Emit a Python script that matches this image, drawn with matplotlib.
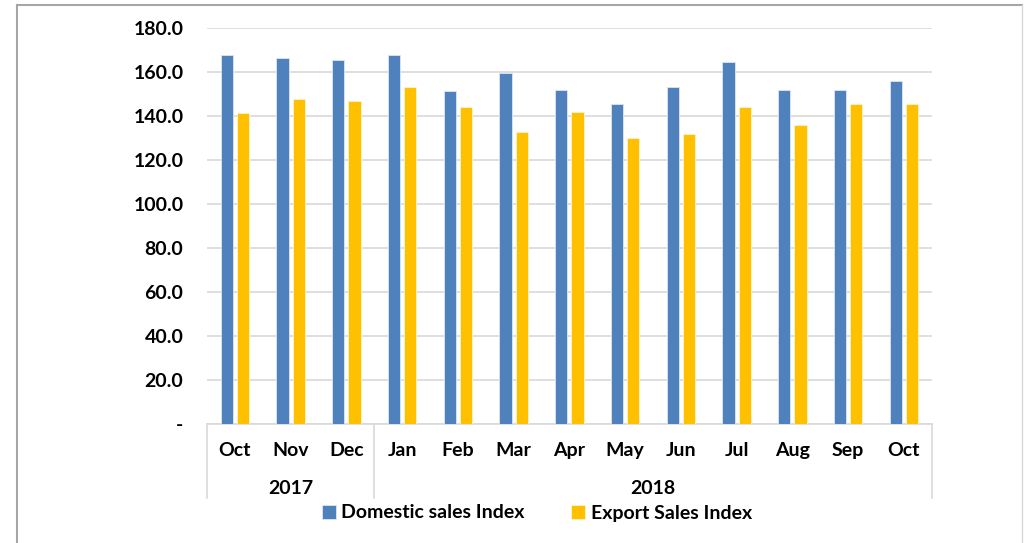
import matplotlib.pyplot as plt
import numpy as np
from matplotlib.lines import Line2D

months = ['Oct', 'Nov', 'Dec', 'Jan', 'Feb', 'Mar', 'Apr', 'May', 'Jun', 'Jul', 'Aug', 'Sep', 'Oct']
years = ['2017', '2018']
year_counts = [3, 10]
domestic = [167.7, 166.4, 165.5, 167.7, 151.4, 159.5, 151.8, 145.3, 153.3, 164.5, 152.0, 151.6, 155.8]
export = [141.4, 147.7, 146.8, 153.2, 144.1, 132.7, 141.8, 130.0, 131.9, 144.2, 135.9, 145.5, 145.6]

plt.rcParams['font.family'] = ['Lato', 'DejaVu Sans']
plt.rcParams['font.weight'] = 'bold'

blue = '#4F81BD'
yellow = '#FFC000'
grid_c = '#D9D9D9'
fs = 14

fig = plt.figure(figsize=(10.25, 5.43), dpi=100)
ax = fig.add_axes([0.202, 0.2192, 0.707, 0.7292])

x = np.arange(len(months))
w = 0.22
ax.bar(x - 0.145, domestic, w, color=blue, edgecolor='#DCE6F2', linewidth=0.6, label='Domestic sales Index', zorder=3)
ax.bar(x + 0.145, export, w, color=yellow, edgecolor='#FFF2CC', linewidth=0.6, label='Export Sales Index', zorder=3)

ax.set_xlim(-0.5, len(months) - 0.5)
ax.set_ylim(0, 180)
ax.set_yticks(np.arange(0, 181, 20))
ax.set_yticklabels(['-'] + [f'{v:.1f}' for v in np.arange(20, 181, 20)], fontsize=fs, fontweight='bold')
ax.yaxis.grid(True, color=grid_c, linewidth=1.2, zorder=0)
ax.tick_params(axis='y', length=0, pad=17)
ax.set_xticks([])
for s in ['top', 'right', 'left']:
    ax.spines[s].set_visible(False)
ax.spines['bottom'].set_color(grid_c)
ax.spines['bottom'].set_linewidth(1.2)

trans = ax.get_xaxis_transform()
for i, m in enumerate(months):
    ax.text(i, -0.066, m, transform=trans, ha='center', va='center', fontsize=fs, fontweight='bold')

start = 0
for yr, n in zip(years, year_counts):
    ax.text(start + (n - 1) / 2, -0.162, yr, transform=trans, ha='center', va='center', fontsize=fs, fontweight='bold')
    start += n

sep = [-0.5] + list(np.cumsum(year_counts) - 0.5)
for s in sep:
    ax.add_line(Line2D([s, s], [0, -0.187], transform=trans, color=grid_c, linewidth=1.2, clip_on=False))

fig.legend(loc='center', bbox_to_anchor=(537 / 1025, 1 - 513 / 543), ncol=2, frameon=False,
           handlelength=0.7, handleheight=0.7, handletextpad=0.3, columnspacing=2.4,
           prop={'weight': 'bold', 'size': fs})

fig.add_artist(Line2D([17 / 1025, 17 / 1025], [0, 1 - 5 / 543], transform=fig.transFigure, color='#A6A6A6', linewidth=1.5))
fig.add_artist(Line2D([17 / 1025, 1022 / 1025], [1 - 5 / 543, 1 - 5 / 543], transform=fig.transFigure, color='#A6A6A6', linewidth=1.5))
fig.add_artist(Line2D([1022 / 1025, 1022 / 1025], [0, 1 - 5 / 543], transform=fig.transFigure, color='#D9D9D9', linewidth=1.0))

fig.savefig('out.png', dpi=100)
